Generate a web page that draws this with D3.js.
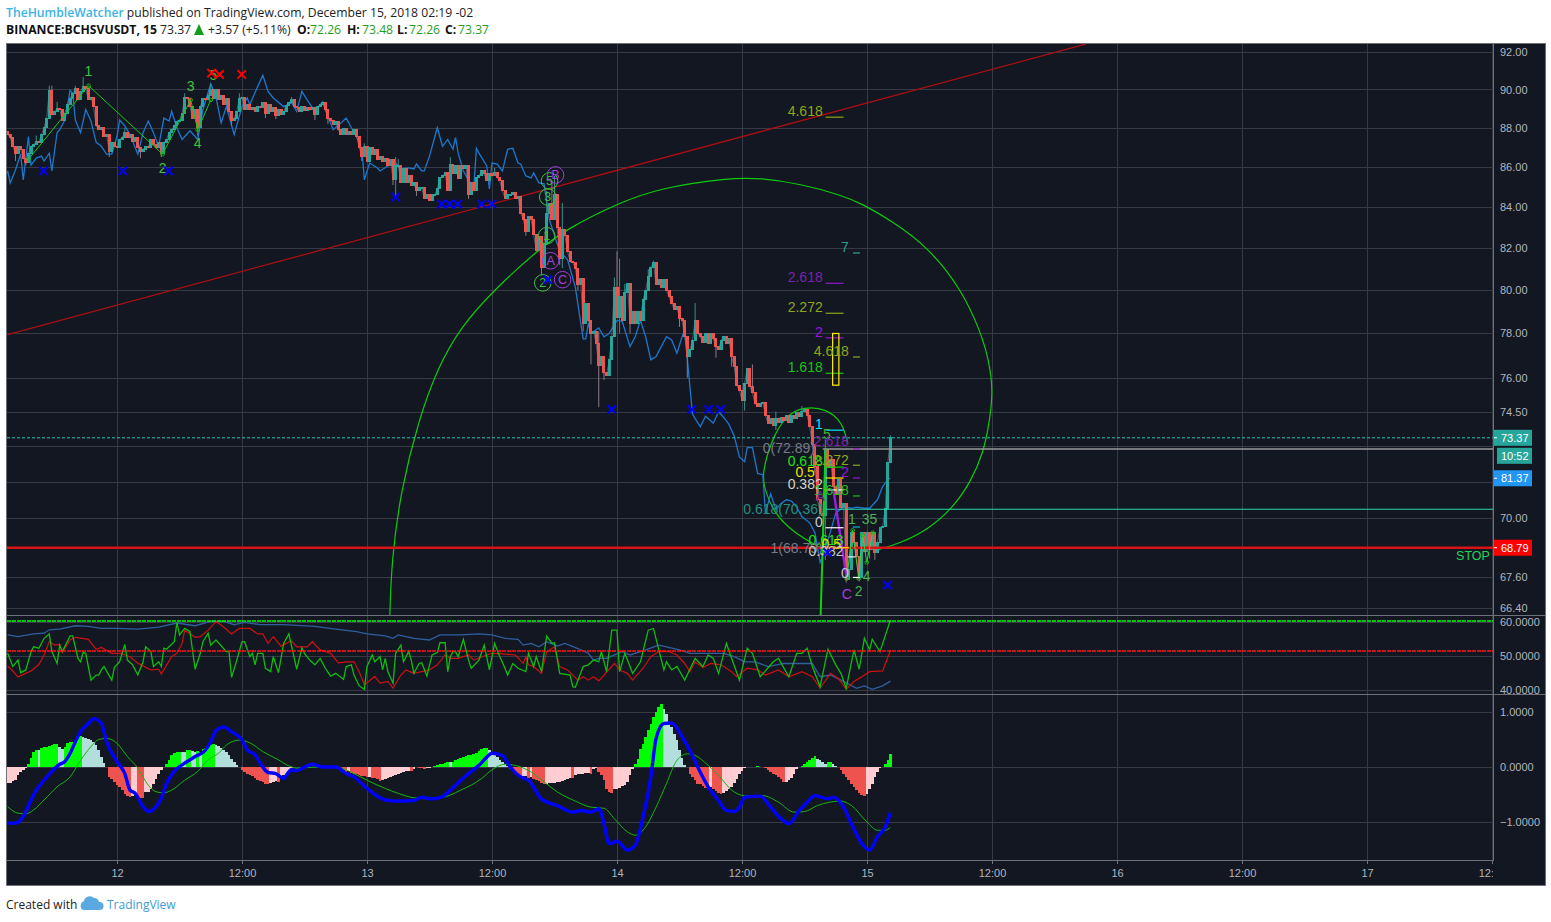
<!DOCTYPE html>
<html><head><meta charset="utf-8">
<style>
html,body{margin:0;padding:0;background:#fff;overflow:hidden}
svg{display:block}
text{font-family:"Liberation Sans",Arial,sans-serif}
.hdr text,.hdr tspan{font-family:"Open Sans","Noto Sans",sans-serif}
</style>
<script src="https://cdnjs.cloudflare.com/ajax/libs/d3/7.8.5/d3.min.js"></script>
</head><body><div id="c"></div>
<script>
// ---------- data ----------
const priceGrid=[92,90,88,86,84,82,80,78,76,74.5,73,71.5,70,67.6,66.4];
const priceTicks=[92,90,88,86,84,82,80,78,76,74.5,70,67.6,66.4];
const rsiTicks=[60,50,40];
const macdTicks=[1,0,-1];
const timeTicks=[["2018-12-12T00:00Z","12"],["2018-12-12T12:00Z","12:00"],["2018-12-13T00:00Z","13"],["2018-12-13T12:00Z","12:00"],["2018-12-14T00:00Z","14"],["2018-12-14T12:00Z","12:00"],["2018-12-15T00:00Z","15"],["2018-12-15T12:00Z","12:00"],["2018-12-16T00:00Z","16"],["2018-12-16T12:00Z","12:00"],["2018-12-17T00:00Z","17"],["2018-12-17T12:00Z","12:00"]];
const lastBarTime="2018-12-15T02:15Z";
const firstOpen=87.8;
const closes=[87.65,87.5,87.05,86.7,87.05,86.9,86.45,86.25,86.7,87.05,87.15,87.3,87.25,87.65,88,88.5,89.95,88.7,88.85,89,
88.95,88.4,88.75,89.2,89.55,89.8,90.05,89.45,89.9,90.15,90.05,89.45,89.6,89.1,88.1,87.9,88,87.55,87.65,86.8,
87.25,87.05,87,87.4,87.5,87.75,87.5,87.65,87.3,87.5,87,86.8,86.9,87.05,87,87.4,87.15,87,87.25,86.7,
87.25,87.4,87.75,87.9,88.1,88.35,88.4,88.75,89.6,89.55,89.1,88.5,88.95,88,89.1,89.55,89.45,89.7,90,89.55,
90,89.45,89.7,89.2,89.55,88.85,88.4,88.5,88.85,89.55,89.6,88.95,89.2,88.95,89.05,88.85,89.1,89.05,89.3,88.75,
89.2,88.85,89.05,88.65,88.95,88.7,88.85,89.15,89.3,89.45,89.1,89.05,88.85,89.1,88.9,89.05,88.95,89.05,88.7,89.1,
89.2,89.3,88.95,88.5,88.4,88.15,88.35,87.9,87.65,87.95,87.65,87.8,87.65,87.9,87.55,87,86.55,87.05,86.3,87,
86.65,86.9,86.4,86.55,86.3,86.45,86.1,86.4,85.35,86.1,86.1,85.2,85.9,85.2,85.55,85.05,85.2,84.8,84.95,84.95,
84.45,84.6,84.35,84.6,84.6,84.9,85.45,85.55,85.7,84.8,86.15,85.65,86.05,85.4,86.05,85.9,86.05,84.6,85.2,84.8,
85.45,85.55,85.8,85.65,85.3,85.65,85.55,85.7,85.45,85.3,84.8,84.45,84.6,84.6,84.7,84.45,84.5,83.7,83.4,82.8,
83.55,83.4,82.65,81.9,82.55,81.1,82.25,83.7,84.2,83.4,84.6,83,81.5,82.9,82.6,81.85,81.35,81.3,81.05,80.25,
80.55,78.45,79.4,78.6,78,78.1,77.55,76.55,76.95,76.25,76.1,76.8,77.85,80.15,78.75,79.7,78.6,79.9,80.3,78.45,
79,78.45,79,78.6,79.55,80,80.65,81.1,81.3,80.25,80.5,80.15,80.5,80,79.7,79.4,79.1,79.25,78.7,78.6,
77.85,76.95,77.25,77.7,78.6,78,77.85,77.6,78,77.55,78,77.75,77.4,77.25,77.7,77.85,77.55,77.75,76.95,76.5,
75.65,75.45,75,75.75,76.4,75.6,75.35,74.85,74.75,74.85,74.9,74.35,74,74.2,73.9,74.2,74.05,74.25,74.1,74.35,
74.05,74.35,74.2,74.45,74.3,74.5,74.6,74.35,73.85,73.1,72.15,70.75,70.2,70.1,72.85,72.1,72.45,71.3,70.95,71.6,
70.45,70.6,67.5,67.9,69.4,69,68.45,67.6,69.4,68.65,69.4,68.7,69.4,68.6,69,69.6,69.65,70.4,72.3,73.37];
// [bar, high, low] where the wick leaves the body (null = body edge)
const wicks=[[3,null,86.3],[7,null,86.1],[11,87.6,null],[16,90.2,null],[17,90.2,null],[19,89.35,null],[26,90.2,null],[29,90.65,null],[33,89.5,null],[39,null,86.5],[45,88,null],[51,null,86.45],[59,null,86.5],[68,89.8,null],[73,null,87.6],[78,90.3,null],[86,null,88.1],[89,89.8,null],[99,null,88.5],[103,null,88.45],[109,89.6,null],[118,null,88.4],[123,null,88.2],[136,null,86.3],[137,87.2,null],[148,null,85.1],[149,86.5,84.55],[150,86.4,null],[157,null,84.55],[170,86.5,null],[177,null,84.4],[187,85.95,null],[199,null,82.6],[205,null,80.7],[207,84.8,null],[209,85.3,null],[210,85.55,null],[212,null,81.2],[213,84.2,81.05],[219,null,80],[221,null,78.1],[224,null,76.6],[227,78.1,74.7],[229,null,75.9],[233,80.6,null],[234,81.85,null],[235,81.5,78],[237,80.3,null],[239,null,78],[246,81,null],[248,81.4,null],[258,null,78.3],[261,null,76],[264,79.4,null],[272,null,76.9],[278,null,76.5],[283,null,74.55],[286,76.6,null],[295,74.5,73.7],[305,74.75,null],[310,null,71.9],[314,73.3,68.3],[322,null,67.4],[327,null,67.45],[331,null,68.35],[333,null,68.3],[339,73.48,null]];
const blueBars=[0,1,3,5,6,8,9,11,13,14,16,17,19,20,22,24,25,26,28,30,32,34,36,38,40,42,43,45,47,50,52,54,56,58,60,62,63,65,67,70,72,73,75,78,80,82,84,87,90,92,93,96,98,100,102,106,109,111,113,115,118,121,123,125,128,130,132,134,136,137,139,142,143,146,149,151,154,156,157,159,160,162,165,167,169,171,172,173,175,179,180,181,184,185,186,188,190,192,194,196,197,199,201,202,204,206,208,212,215,218,221,222,223,224,227,229,231,234,236,239,241,243,245,247,249,251,253,255,257,259,260,262,263,264,266,268,271,273,275,277,279,281,283,284,286,288,290,291,293,295,297,299,301,303,305,308,310,312,313,316,318,321,324,326,329,331,334,336,338,339];
const bluePrices=[85.8,85.2,85.85,86.65,85.35,87.55,86.1,86.45,86.55,86.3,86.7,85.8,87.75,87.9,88.4,89.95,89.8,88.4,87.75,88.95,88.35,87.25,87.05,86.65,86.65,87.55,88.4,88.1,87.65,86.65,87.75,88.35,87.75,87.05,88.5,88.35,88.85,88,87.4,87.85,87.55,87.4,88.95,90.3,89.6,88.25,89.1,87.65,89.1,89.55,89.2,90.15,90.75,89.9,89.55,89.1,89.3,88.85,89.9,89.45,88.85,89.35,88.6,87.9,88.25,88.5,88,87.55,86.9,85.35,86.2,85.95,85.8,86.05,86.2,85.9,85.95,85.9,86.15,85.8,85.8,86.55,88,87.05,87.4,86.9,87.5,86.7,85.8,84.9,86.95,86.7,86.05,84.9,86.2,86.15,85.8,86.9,86.95,86.2,86.15,85.55,85.45,85.7,85.2,85.15,83.4,81.85,81.45,80.15,77.75,77.75,78.45,78,78.25,77.85,78,78.6,78.55,77.4,77.85,78.6,77.85,76.8,76.95,77.4,77.85,77.7,77.1,77.85,78.15,75.6,74.4,74.2,73.85,74.3,74,74.5,74.25,73.95,73.45,72.55,72.35,72.95,72.95,71.85,71.8,70.2,71,70.35,70.6,70.75,70.7,70.45,70.05,69.8,69.4,68.2,68.45,69.45,70.2,70.45,70.4,70.45,70.4,70.4,70.75,71.3,71.6,71.65];
const rsiFast=[[0,50.8],[2,46.9],[4,48.8],[5,45.1],[7,45.9],[9,51.3],[10,52.7],[12,52.3],[14,55.2],[16,56.5],[17,51.3],[19,47.8],[20,53.2],[21,51.3],[24,55.9],[25,55.9],[27,49.3],[28,48.3],[29,51],[30,50.8],[32,42.9],[34,44.4],[35,44.4],[36,45.9],[37,46.9],[40,42.9],[41,46.7],[43,48.3],[45,53.4],[46,48.8],[48,47.4],[50,44.4],[52,48.3],[53,52.7],[55,51.3],[56,46.9],[58,48.3],[59,46.9],[60,52.3],[61,52],[64,54.2],[65,59.8],[66,56.2],[68,58.1],[70,57.2],[72,46.1],[74,50.8],[75,54.2],[77,56.7],[78,53.2],[80,54.7],[84,51.3],[85,51.3],[86,43.7],[88,48.8],[90,54.2],[91,54.2],[93,49.8],[94,50.8],[95,47.4],[96,50.8],[98,50.8],[99,46.4],[101,45.4],[102,49.8],[104,45.1],[106,53.7],[108,56.5],[111,46.1],[113,52.3],[114,50.8],[116,48.8],[118,47.4],[120,49.3],[122,46.4],[124,44.1],[126,44.9],[129,43.1],[130,46.9],[132,47.4],[133,44.4],[135,41.2],[137,40.2],[138,46.9],[140,50.3],[141,48.3],[143,49.8],[144,45.9],[145,49.3],[146,45.4],[148,42],[149,50.8],[151,53.2],[152,48.3],[154,51.3],[155,48.8],[156,44.9],[158,47.8],[159,48],[161,44.1],[162,47.4],[163,50.3],[165,51],[166,53.9],[168,53.9],[169,45.4],[170,49.8],[171,51.3],[172,51.3],[173,49.8],[175,54.9],[177,48.8],[178,46.4],[181,48.8],[183,53.2],[185,45.9],[187,53.7],[189,49.8],[191,46.4],[192,44.4],[194,47.8],[196,46.4],[199,45.4],[200,50.8],[202,46.9],[203,49.8],[205,45.4],[207,55.9],[209,53.7],[210,53.9],[212,44.9],[216,44.4],[217,41],[218,40.8],[221,46.9],[223,47.4],[225,48.8],[227,48.3],[228,51.3],[230,45.4],[232,57.6],[234,57.6],[235,45.4],[237,50.8],[240,44.9],[243,48.3],[246,57.6],[248,58.1],[252,45.9],[253,48.3],[255,45.9],[257,46.9],[260,42.9],[264,49.3],[267,46.9],[269,50.3],[271,49.3],[273,44.9],[276,53.7],[281,42.9],[284,52.3],[286,50.8],[289,43.9],[294,48.3],[296,49.3],[300,43.9],[303,50.8],[305,50.8],[307,52.3],[309,46.9],[312,41],[315,52],[318,47.4],[320,44.9],[322,40.5],[325,51.8],[327,46.1],[329,55.2],[331,51.8],[332,54.9],[335,51.3],[339,60.6]];
const rsiSlow=[[0,47.1],[2,45.6],[4,43.8],[6,44.6],[9,45.6],[12,47.5],[14,50.3],[16,54.2],[18,53.2],[20,53.4],[21,51],[24,54.7],[26,55.5],[31,54.9],[34,52],[36,52.5],[40,50.8],[43,50.8],[47,49.8],[50,47.9],[55,45.9],[58,46.1],[59,44.7],[63,49.8],[65,50.8],[67,53.7],[68,57.6],[72,55.5],[74,55.7],[77,57.6],[80,60.1],[82,59.1],[86,56.5],[89,58.1],[93,58.1],[96,56.5],[98,56.5],[100,53.7],[102,55.7],[105,52.9],[109,54.5],[111,52.7],[115,52.7],[117,54.2],[120,51.8],[124,50.8],[127,48],[130,48.3],[133,48.3],[135,45.4],[137,41.5],[141,44],[143,42],[146,42.5],[148,40.5],[151,44.4],[153,45.9],[156,44.9],[162,45.9],[165,47.4],[168,50.3],[170,49.3],[173,49.3],[177,50.3],[179,48.8],[184,50.3],[186,50.8],[190,50.6],[195,50.3],[198,47.8],[199,49.8],[200,47.4],[202,46.9],[205,44.9],[207,51.3],[210,52.7],[212,46.9],[215,45.9],[219,42.9],[221,43.9],[223,42.9],[225,43.9],[227,42.7],[229,44.4],[233,47.8],[235,45.9],[238,44.9],[240,42.9],[244,46.4],[247,49.8],[250,51.3],[254,51.3],[257,50.3],[260,47.8],[262,45.4],[264,48.3],[267,46.6],[270,47.8],[274,47.4],[278,45.4],[280,43.9],[284,46.4],[288,45.9],[291,44.4],[296,45.9],[300,43.9],[305,45.4],[309,43.9],[312,40.5],[316,44.9],[319,43.4],[322,40.2],[325,42.5],[328,43.9],[331,45.4],[336,45.6],[339,51.6]];
const rsiLong=[[0,56.2],[4,55.7],[10,56.5],[14,56.7],[16,57.7],[20,57.9],[26,58.9],[31,58.7],[36,58.1],[42,58.1],[50,57.9],[58,58.5],[65,59.7],[72,58.9],[78,60.2],[83,60.2],[87,59.2],[91,59.9],[97,59.2],[106,59.2],[118,58.7],[126,57.9],[134,57.2],[138,56.5],[145,55.9],[148,55.2],[150,56.2],[156,55.2],[162,54.7],[166,56.2],[170,56.2],[174,56.2],[181,56.5],[186,56.2],[191,55.2],[196,54.9],[198,53.2],[201,53.7],[204,52.7],[207,54.2],[211,52.9],[214,53.7],[219,52.2],[223,50.8],[225,48.8],[227,49.3],[230,49.3],[236,51.3],[239,50.3],[245,51.8],[250,53.2],[253,52.7],[258,51.8],[262,50.8],[271,50.8],[275,50.8],[279,49.8],[283,48.3],[287,48.3],[292,46.9],[298,47.8],[309,47.8],[312,43.9],[316,44.4],[320,42.9],[326,40.5],[329,41.2],[332,40.2],[336,41.2],[339,42.6]];
const rsiUpper=60.4, rsiLower=51.5;
const macdLine=[[0,-1.02],[3,-1.02],[6,-.9],[9,-.6],[11,-.42],[14,-.24],[17,-.08],[20,.05],[22,.1],[24,.25],[26,.46],[28,.64],[31,.79],[33,.88],[36,.79],[38,.46],[42,.1],[45,-.12],[47,-.42],[49,-.48],[52,-.72],[54,-.81],[57,-.72],[59,-.57],[61,-.3],[64,-.08],[68,.07],[72,.19],[76,.31],[78,.46],[80,.66],[83,.73],[86,.64],[90,.49],[92,.31],[95,.22],[97,.07],[100,-.1],[103,-.12],[106,-.21],[107,-.15],[109,-.05],[111,-.07],[114,0],[117,.05],[121,0],[126,0],[130,-.12],[133,-.18],[138,-.39],[145,-.6],[149,-.62],[156,-.61],[159,-.55],[163,-.58],[167,-.54],[170,-.42],[174,-.24],[178,-.08],[181,.03],[184,.18],[186,.25],[190,.21],[193,0],[197,-.18],[200,-.24],[205,-.58],[211,-.7],[217,-.82],[220,-.79],[224,-.82],[227,-.76],[229,-1.03],[231,-1.39],[234,-1.35],[238,-1.51],[241,-1.42],[244,-.91],[247,-.18],[249,.52],[252,.79],[255,.8],[259,.55],[262,.3],[265,0],[269,-.36],[273,-.61],[276,-.79],[279,-.81],[281,-.73],[283,-.55],[289,-.53],[293,-.73],[297,-.94],[300,-1.03],[304,-.79],[307,-.64],[310,-.52],[315,-.58],[317,-.55],[321,-.73],[324,-1.03],[328,-1.39],[331,-1.51],[334,-1.27],[337,-1.09],[339,-.83]];
const macdSignal=[[0,-.72],[4,-.84],[7,-.85],[10,-.78],[14,-.6],[19,-.36],[24,-.18],[28,.12],[32,.37],[35,.5],[38,.52],[42,.43],[46,.19],[50,-.02],[54,-.33],[57,-.45],[60,-.47],[63,-.42],[68,-.24],[73,-.08],[77,.13],[81,.25],[84,.4],[89,.49],[93,.44],[98,.28],[104,.13],[108,.02],[111,-.02],[119,0],[126,0],[133,-.12],[138,-.24],[145,-.39],[150,-.48],[156,-.56],[163,-.58],[170,-.51],[174,-.42],[178,-.33],[182,-.21],[186,-.05],[191,.05],[197,0],[201,-.09],[206,-.27],[211,-.45],[218,-.62],[224,-.73],[229,-.75],[233,-.94],[238,-1.18],[241,-1.24],[245,-1.09],[249,-.73],[253,-.3],[257,.12],[261,.24],[264,.21],[269,.03],[273,-.15],[278,-.42],[283,-.52],[290,-.52],[296,-.64],[302,-.82],[306,-.81],[311,-.7],[320,-.62],[324,-.7],[330,-1],[334,-1.15],[337,-1.15],[339,-1.1]];
const macdHist=[-.291,-.291,-.255,-.23,-.152,-.091,-.048,-.018,.061,.17,.273,.315,.303,.345,.364,.367,.382,.4,.412,.415,.364,.333,.364,.436,.455,.458,.485,.545,.558,.545,.533,.515,.485,.455,.394,.303,.182,.073,0,
-.182,-.212,-.273,-.321,-.364,-.424,-.485,-.521,-.545,-.533,-.515,-.545,-.558,-.564,-.455,-.448,-.394,-.303,-.212,-.133,-.048,0,
.048,.133,.212,.255,.273,.279,.273,.267,.303,.309,.291,.273,.291,.279,.333,.352,.376,.394,.412,.4,.376,.352,.315,.273,.212,.152,.091,.036,0,
-.061,-.091,-.121,-.139,-.17,-.194,-.23,-.255,-.279,-.303,-.315,-.291,-.273,-.255,-.273,-.182,-.152,-.121,-.061,-.018,-.006,
0,0,0,0,0,0,0,0,0,0,0,0,0,0,0,0,0,0,
-.048,-.085,-.079,-.109,-.121,-.133,-.145,-.158,-.17,-.182,-.176,-.194,-.206,-.224,-.255,-.23,-.212,-.194,-.182,-.164,-.152,-.133,-.109,-.091,-.079,-.073,-.079,-.03,-.006,-.018,-.024,-.03,-.024,-.012,0,.012,.03,.048,.061,.079,.091,
.085,.097,.121,.145,.158,.182,.2,.212,.224,.242,.261,.291,.333,.339,.345,.315,.273,.23,.182,.133,.091,.048,.012,
-.03,-.073,-.121,-.158,-.188,-.17,-.164,-.194,-.182,-.218,-.242,-.261,-.291,-.309,-.303,-.297,-.291,-.285,-.279,-.267,-.248,-.236,-.218,-.2,-.206,-.145,-.133,-.127,-.121,-.115,-.109,-.121,-.03,-.018,-.091,-.152,-.242,-.394,-.455,-.473,-.4,-.394,-.376,-.352,-.333,-.273,-.152,-.03,
.061,.152,.333,.424,.545,.667,.788,.909,1,1.091,1.139,1.061,.97,.818,.727,.606,.485,.303,.17,.03,0,
-.133,-.182,-.242,-.303,-.315,-.352,-.376,-.394,-.364,-.4,-.436,-.473,-.497,-.473,-.436,-.394,-.364,-.291,-.212,-.133,-.073,-.018,0,0,0,0,.012,.006,0,-.012,-.048,-.085,-.121,-.152,-.182,-.212,-.273,-.267,-.23,-.194,-.121,-.03,0,
.018,.048,.091,.133,.17,.194,.152,.121,.091,.061,.085,.088,.048,.024,0,
-.061,-.121,-.182,-.242,-.303,-.364,-.424,-.473,-.515,-.533,-.485,-.394,-.303,-.182,-.091,-.018,0,.048,.121,.242];
const trendLine=[[0,77.95],[414,92.43]];
const bigArc=[[146.5,64.5],[146.7,66.13],[147.5,68.3],[150.9,71.1],[157.8,74.14],[165.1,76.44],[174,78.3],[186.6,80],[203.5,81.9],[214.3,82.9],[234.3,84.2],[250.8,84.95],[276.5,85.45],[289.2,85.45],[304.5,85.15],[319.9,84.6],[327.6,84.2],[340.2,83.27],[353.3,82.06],[366,80.11],[373.7,78.07],[377,76.7],[378.4,75.36],[377,74.05],[374.8,72.76],[369.8,71.49],[362.9,70.41],[353.3,69.51],[342.9,68.98],[334.1,68.7]];
const smallArc=[[312.2,68.79],[301.8,69.4],[294.2,70.2],[290.3,71.3],[289.9,71.9],[293,73.2],[298.8,74.35],[305.7,74.72],[314.1,74.65],[320.7,74.05],[322.6,73.1]];
const stemLine=[[312.2,66.13],[314.1,72.89]];
const wavePurple=[[317.2,71.1],[322.2,67.56]];
const waveTop=[[8.06,86.4],[31.1,90.2],[59.5,86.65],[70.3,89.45],[73,87.9],[78,89.45]];
const waveLow=[[322.2,67.56],[324.5,69.5],[326.8,67.56],[328.3,69.3],[329.9,68.2],[332.2,69.4]];
const blueCrosses=[[13.8,85.8],[44.2,85.8],[61.8,85.8],[149,84.5],[166.7,84.15],[169.7,84.15],[172.8,84.15],[182,84.15],[185.9,84.15],[207.4,80.5],[232,74.6],[262.7,74.6],[269.2,74.6],[273.8,74.6],[314.9,68.6],[337.9,67.3]];
const redCrosses=[[78.3,90.87],[81.4,90.8],[89.9,90.8]];
const circled=[["5",208.1,85.3,"#3fc23f"],["B",210.4,85.6,"#a040d8"],["3",207.4,84.5,"#3fc23f"],["1",207,82.6,"#3fc23f"],["A",208.5,81.4,"#a040d8"],["2",205.5,80.35,"#3fc23f"],["C",213.1,80.5,"#a040d8"]];
// [from bar, to bar, price, colour]
const levels=[[314.1,321,88.55,"#8fa51a"],[314.1,321,80.33,"#8e18c8"],[314.1,321,78.93,"#8fa51a"],[314.1,321,77.8,"#9c10e0"],[314.1,321,76.2,"#18c018"],
[324.6,327.3,81.77,"#26a69a"],[324.6,327.3,76.93,"#8fa51a"],[324.6,327.3,72.89,"#9c10e0"],[324.6,327.3,72.2,"#8fa51a"],[324.6,327.3,71.66,"#9c10e0"],[324.6,327.3,70.91,"#18c018"],[324.6,327.3,69.63,"#00bcd4"],
[314.1,321,73.7,"#00e5ff"],[314.1,321,72.12,"#00e000"],[314.1,321,71.66,"#ffee00"],[314.1,321,71.16,"#f0f0f0"],[314.1,321,69.6,"#ffffff"],
[319,323,68.79,"#ffee00"],[322.6,325.6,68.42,"#f0f0f0"],[324.6,327.3,67.6,"#ffffff"]];
// [text, bar, price, colour, anchor]
const labels=[["4.618",313,88.6,"#8fa51a","end"],["2.618",313,80.4,"#7d22a8","end"],["2.272",313,79,"#8fa51a","end"],["2",313,77.85,"#9c10e0","end"],["1.618",313,76.25,"#18c018","end"],
["7",323,81.8,"#2a9d8f","end"],["4.618",323,76.97,"#8fa51a","end"],["1",313,73.75,"#00e5ff","end"],["5",314.6,73.32,"#4caf30","middle"],["0(72.89)",310,72.72,"#787b86","end"],["2.618",323,73,"#7d22a8","end"],["0.618",313,72.16,"#18e018","end"],["2.272",323,72.23,"#8fa51a","end"],["0.5",310,71.7,"#e8e000","end"],["2",323,71.7,"#9c10e0","end"],["0.382",313,71.2,"#d8d4c0","end"],["1.618",323,70.95,"#18c018","end"],["0.618(70.36)",313,70.17,"#26907f","end"],["A",312,70.7,"#6c2a90","middle"],["0",313,69.63,"#c8c8c8","end"],["1",324.2,69.75,"#4caf50","middle"],["35",331,69.75,"#4caf50","middle"],["0.618",321,68.9,"#18e018","end"],["0.5",320,68.75,"#e8e000","end"],["1(68.79)",313,68.58,"#787b86","end"],["0.382",321,68.45,"#c8c8c8","end"],["0",323,67.56,"#c8c8c8","end"],["4",329.9,67.45,"#4caf50","middle"],["2",326.8,66.87,"#4caf50","middle"],["C",322.2,66.75,"#a040d8","middle"],
["1",31,90.7,"#3fc23f","middle"],["2",59.5,85.7,"#3fc23f","middle"],["3",70.3,89.9,"#3fc23f","middle"],["4",73,86.96,"#3fc23f","middle"],["5",79,90.5,"#3fc23f","middle"],["STOP",556.2,68.28,"#1fd65f","start"]];
const badges=[["73.37",73.37,"#26a69a"],["81.37",71.65,"#2196f3"],["68.79",68.79,"#ff0000"]];
const grayLevel=72.89, tealLevel=70.36, stopLevel=68.79, lastPrice=73.37;

// ---------- layout ----------
const W=1551,H=922,L=7,R=1493,FR=1545;
const P={t:44,b:615},S={t:616,b:694},M={t:695,b:860};
const svg=d3.select("#c").append("svg").attr("width",W).attr("height",H);
const x=d3.scaleUtc().domain([Date.UTC(2018,11,12),Date.UTC(2018,11,17)]).range([117,1367]);
const lastT=+new Date(lastBarTime), step=15*60000, n=closes.length;
const bx=i=>x(lastT-(n-1-i)*step);
const yP=d3.scaleLog().domain([66.4,92]).range([608,52]);
const yS=d3.scaleLinear().domain([40,60]).range([690,622]);
const yM=d3.scaleLinear().domain([-1,1]).range([822,712]);
const BG="#131722",GRID="#363a45",BORDER="#6f7178",TXT="#b2b5be";

// frame
svg.append("rect").attr("x",6).attr("y",43).attr("width",FR-6).attr("height",885-43).attr("fill",BG).attr("stroke",BORDER).attr("stroke-width",1).attr("shape-rendering","crispEdges");

const defs=svg.append("defs");
[["cp",P],["cs",S],["cm",M]].forEach(([id,p])=>defs.append("clipPath").attr("id",id).append("rect").attr("x",L).attr("y",p.t).attr("width",R-L).attr("height",p.b-p.t));
defs.append("clipPath").attr("id","ct").append("rect").attr("x",L).attr("y",860).attr("width",R-L).attr("height",25);

// grid
const grid=svg.append("g").attr("stroke",GRID).attr("shape-rendering","crispEdges");
const tickDates=timeTicks.map(d=>new Date(d[0]));
grid.selectAll(".v").data(tickDates).join("line").attr("x1",d=>Math.round(x(d))+.5).attr("x2",d=>Math.round(x(d))+.5).attr("y1",P.t).attr("y2",M.b);
const hl=(vals,y)=>grid.append("g").selectAll("line").data(vals).join("line").attr("x1",L).attr("x2",R).attr("y1",d=>Math.round(y(d))+.5).attr("y2",d=>Math.round(y(d))+.5);
hl(priceGrid,yP);hl(rsiTicks,yS);hl(macdTicks,yM);

// main pane
const pg=svg.append("g").attr("clip-path","url(#cp)");
const lineXY=d3.line().x(d=>bx(d[0])).y(d=>yP(d[1]));
const ohlc=closes.map((c,i)=>{const o=i?closes[i-1]:firstOpen;const w=wicks.find(a=>a[0]===i);
  return {i,o,c,h:(w&&w[1]!=null)?w[1]:Math.max(o,c),l:(w&&w[2]!=null)?w[2]:Math.min(o,c)};});
pg.append("path").attr("d",lineXY(trendLine)).attr("fill","none").attr("stroke","#a80f14").attr("stroke-width",1.3);
const arc=d3.line().x(d=>bx(d[0])).y(d=>yP(d[1])).curve(d3.curveBasis);
pg.append("path").attr("d",arc(bigArc)).attr("fill","none").attr("stroke","#0ecb0e").attr("stroke-width",1.2);
pg.append("path").attr("d",arc(smallArc)).attr("fill","none").attr("stroke","#0ecb0e").attr("stroke-width",1.2);
pg.append("path").attr("d",d3.line().x((d,i)=>bx(blueBars[i])).y(d=>yP(d))(bluePrices)).attr("fill","none").attr("stroke","#1c78cc").attr("stroke-width",1.3);
const hLine=(x1,p,col,sw,dash)=>pg.append("line").attr("x1",x1).attr("x2",R).attr("y1",yP(p)).attr("y2",yP(p)).attr("stroke",col).attr("stroke-width",sw).attr("stroke-dasharray",dash||null);
hLine(L,lastPrice,"#26c6b8",1,"3,2");
pg.append("path").attr("d",d3.line().x(d=>bx(d.i)).y(d=>yP(d.c))(ohlc)).attr("fill","none").attr("stroke","#8a8d96").attr("stroke-width",1).attr("opacity",.55);
pg.append("g").selectAll("line").data(ohlc.filter(d=>d.h>Math.max(d.o,d.c)||d.l<Math.min(d.o,d.c))).join("line")
  .attr("x1",d=>bx(d.i)).attr("x2",d=>bx(d.i)).attr("y1",d=>yP(d.h)).attr("y2",d=>yP(d.l)).attr("stroke",d=>d.c>=d.o?"#3a8f88":"#8d7a80").attr("stroke-width",1);
pg.append("g").attr("shape-rendering","crispEdges").selectAll("rect").data(ohlc).join("rect")
  .attr("x",d=>Math.round(bx(d.i)-1.5)).attr("width",3).attr("y",d=>yP(Math.max(d.o,d.c))-.5).attr("height",d=>Math.max(2,Math.abs(yP(d.o)-yP(d.c))+1))
  .attr("fill",d=>d.c>=d.o?"#26a69a":"#ef5350");
hLine(bx(313),grayLevel,"#9a9a9a",1.4);
hLine(bx(314.1),tealLevel,"#2bd6a5",1.2);
hLine(L,stopLevel,"#d81414",2.6);
pg.append("path").attr("d",lineXY(stemLine)).attr("stroke","#10d010").attr("stroke-width",2).attr("fill","none");
pg.append("path").attr("d",lineXY(wavePurple)).attr("stroke","#9c1fe0").attr("stroke-width",2.4).attr("fill","none");
pg.append("path").attr("d",lineXY(waveTop)).attr("stroke","#14c814").attr("stroke-width",1).attr("fill","none");
pg.append("path").attr("d",lineXY(waveLow)).attr("stroke","#3fd03f").attr("stroke-width",1).attr("fill","none");
pg.append("g").selectAll("circle").data(waveLow.concat(waveTop)).join("circle").attr("cx",d=>bx(d[0])).attr("cy",d=>yP(d[1])).attr("r",1.8).attr("fill","none").attr("stroke","#14b814");
pg.append("g").selectAll("line").data(levels).join("line").attr("x1",d=>bx(d[0])).attr("x2",d=>bx(d[1])).attr("y1",d=>yP(d[2])).attr("y2",d=>yP(d[2])).attr("stroke",d=>d[3]).attr("stroke-width",1.2);
pg.append("rect").attr("x",bx(316.8)).attr("width",bx(319.2)-bx(316.8)).attr("y",yP(78)).attr("height",yP(75.67)-yP(78)).attr("fill","none").attr("stroke","#ffee00").attr("stroke-width",1.2);
pg.append("g").selectAll("text").data(labels).join("text").text(d=>d[0])
  .attr("x",d=>bx(d[1])).attr("y",d=>yP(d[2])).attr("fill",d=>d[3]).attr("font-size",d=>d[0]==="STOP"?12.5:14).attr("text-anchor",d=>d[4]);
const cg=pg.append("g").selectAll("g").data(circled).join("g").attr("transform",d=>`translate(${bx(d[1])},${yP(d[2])})`);
cg.append("circle").attr("r",8.3).attr("fill","none").attr("stroke",d=>d[3]).attr("stroke-width",1);
cg.append("text").text(d=>d[0]).attr("text-anchor","middle").attr("y",4.5).attr("font-size",12.5).attr("fill",d=>d[3]);
const cross=(data,col)=>{pg.append("g").selectAll("path").data(data).join("path")
  .attr("d",d=>{const a=bx(d[0]),b=yP(d[1]),s=4.2;return `M${a-s},${b-s}L${a+s},${b+s}M${a-s},${b+s}L${a+s},${b-s}`;})
  .attr("stroke",col).attr("stroke-width",2).attr("fill","none");};
cross(blueCrosses,"#0000ff");cross(redCrosses,"#ff0000");

// RSI pane
const rg=svg.append("g").attr("clip-path","url(#cs)");
const rl=d3.line().x(d=>bx(d[0])).y(d=>yS(d[1]));
rg.append("path").attr("d",rl(rsiLong)).attr("fill","none").attr("stroke","#2f5f9e").attr("stroke-width",1.3);
rg.append("path").attr("d",rl(rsiSlow)).attr("fill","none").attr("stroke","#d01010").attr("stroke-width",1.2);
rg.append("path").attr("d",rl(rsiFast)).attr("fill","none").attr("stroke","#10bc10").attr("stroke-width",1.3);
const dashed=(v,c)=>rg.append("line").attr("x1",L).attr("x2",R).attr("y1",Math.round(yS(v))).attr("y2",Math.round(yS(v))).attr("stroke",c).attr("stroke-width",1.4).attr("stroke-dasharray","4,1");
dashed(rsiUpper,"#00ff00");dashed(rsiLower,"#ff1414");

// MACD pane
const mg=svg.append("g").attr("clip-path","url(#cm)");
const hist=macdHist.map((v,i)=>({i,v,p:i?macdHist[i-1]:v}));
mg.append("g").attr("shape-rendering","crispEdges").selectAll("rect").data(hist.filter(d=>d.v!==0)).join("rect")
  .attr("x",d=>bx(d.i)-1.3).attr("width",2.62).attr("y",d=>Math.min(yM(d.v),yM(0))).attr("height",d=>Math.abs(yM(d.v)-yM(0)))
  .attr("fill",d=>d.v>0?(d.v>d.p?"#00ff00":"#b2dfdb"):(d.v<d.p?"#ef5350":"#ffcdd2"));
const ml=d3.line().x(d=>bx(d[0])).y(d=>yM(d[1])).curve(d3.curveMonotoneX);
mg.append("path").attr("d",ml(macdSignal)).attr("fill","none").attr("stroke","#12b512").attr("stroke-width",1);
mg.append("path").attr("d",ml(macdLine)).attr("fill","none").attr("stroke","#0000ff").attr("stroke-width",3.4);

// separators
const sep=svg.append("g").attr("stroke",BORDER).attr("shape-rendering","crispEdges");
sep.append("line").attr("x1",L).attr("x2",FR).attr("y1",615.5).attr("y2",615.5);
sep.append("line").attr("x1",L).attr("x2",FR).attr("y1",694.5).attr("y2",694.5);
sep.append("line").attr("x1",L).attr("x2",R).attr("y1",860.5).attr("y2",860.5);
sep.append("line").attr("x1",R+.5).attr("x2",R+.5).attr("y1",P.t).attr("y2",860.5);

// axes
const styleAxis=g=>{g.select(".domain").remove();g.selectAll("line").attr("stroke",BORDER);g.selectAll("text").attr("fill",TXT).attr("font-size",11).attr("font-family",'"Liberation Sans",Arial,sans-serif');};
svg.append("g").attr("transform",`translate(${R},0)`).call(d3.axisRight(yP).tickValues(priceTicks).tickFormat(d3.format(".2f")).tickSize(0).tickPadding(7)).call(styleAxis);
svg.append("g").attr("transform",`translate(${R},0)`).call(d3.axisRight(yS).tickValues(rsiTicks).tickFormat(d3.format(".4f")).tickSize(0).tickPadding(7)).call(styleAxis);
svg.append("g").attr("transform",`translate(${R},0)`).call(d3.axisRight(yM).tickValues(macdTicks).tickFormat(d3.format(".4f")).tickSize(0).tickPadding(7)).call(styleAxis);
const tg=svg.append("g").attr("clip-path","url(#ct)");
tg.append("g").attr("transform","translate(0,860)").call(d3.axisBottom(x).tickValues(tickDates).tickFormat((d,i)=>timeTicks[i][1]).tickSize(4).tickPadding(5)).call(styleAxis);

// badges
const bg=svg.append("g").selectAll("g").data(badges).join("g").attr("transform",d=>`translate(${R+1},${yP(d[1])})`);
bg.append("rect").attr("x",0).attr("y",-8).attr("width",38).attr("height",16).attr("fill",d=>d[2]);
bg.append("line").attr("x1",0).attr("x2",3).attr("stroke","#fff");
bg.append("text").text(d=>d[0]).attr("x",7).attr("y",4).attr("fill","#fff").attr("font-size",11);
const tb=svg.append("g").attr("transform",`translate(${R+4},${yP(lastPrice)+18})`);
tb.append("rect").attr("x",0).attr("y",-8).attr("width",35).attr("height",16).attr("fill","#26a69a");
tb.append("text").text("10:52").attr("x",4).attr("y",4).attr("fill","#fff").attr("font-size",11);

// header
const h=svg.append("g").attr("class","hdr").attr("font-size",12.2);
const t1=h.append("text").attr("x",6).attr("y",17).attr("fill","#222");
t1.append("tspan").text("TheHumbleWatcher").attr("fill","#3bb3e4").attr("font-weight",600);
t1.append("tspan").text(" published on TradingView.com, December 15, 2018 02:19 -02");
const row=(txt,xp,col,bold)=>h.append("text").text(txt).attr("x",xp).attr("y",34).attr("fill",col).attr("font-weight",bold?700:400);
row("BINANCE:BCHSVUSDT, 15",6,"#111",true);row("73.37",160,"#222");
h.append("path").attr("d","M194,35L204,35L199,24Z").attr("fill","#0f9d1a");
row("+3.57 (+5.11%)",208,"#222");row("O:",297,"#111",true);row("72.26",310,"#1f9e1f");row("H:",347,"#111",true);row("73.48",362,"#1f9e1f");row("L:",397,"#111",true);row("72.26",409,"#1f9e1f");row("C:",445,"#111",true);row("73.37",458,"#1f9e1f");

// footer
const f=svg.append("g").attr("class","hdr").attr("font-size",12);
f.append("text").text("Created with").attr("x",6).attr("y",909).attr("fill","#222");
f.append("path").attr("d","M83,910a5,5 0 0 1 1,-9a6,6 0 0 1 10,-3a5,5 0 0 1 5,4a4,4 0 0 1 1,8Z").attr("fill","#5aa9e0");
f.append("text").text("TradingView").attr("x",107).attr("y",909).attr("fill","#3f9bd6");
</script></body></html>
